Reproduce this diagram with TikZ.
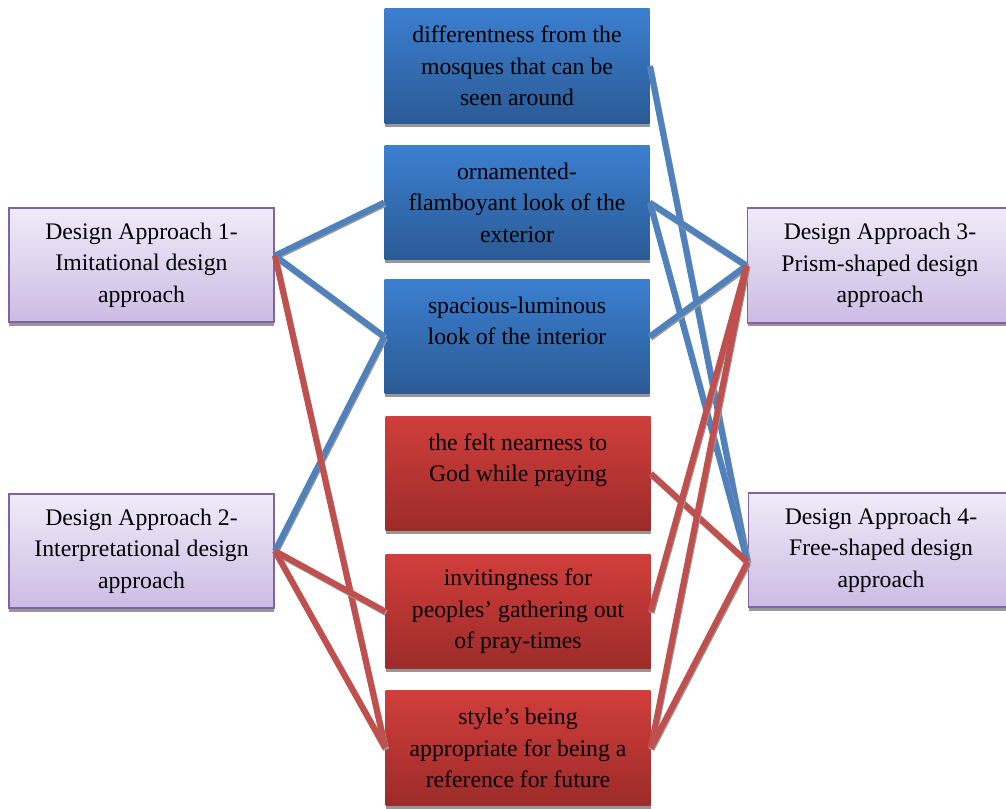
\documentclass[tikz,border=0pt]{standalone}
\usepackage{fontspec}
\setmainfont{Liberation Serif}
\usetikzlibrary{shadows}
\definecolor{apprtop}{HTML}{F0EBF8}
\definecolor{apprbot}{HTML}{CCBBE4}
\definecolor{apprline}{HTML}{8064A2}
\definecolor{bluetop}{HTML}{3B7FD0}
\definecolor{bluebot}{HTML}{2B5A95}
\definecolor{redtop}{HTML}{D13E3B}
\definecolor{redbot}{HTML}{9C2B29}
\definecolor{linkblue}{HTML}{4F81BD}
\definecolor{linkred}{HTML}{C0504D}
\tikzset{
  box/.style={minimum width=198.75pt,minimum height=86pt,inner sep=0pt,align=center,
    font=\fontsize{17.8}{23.6}\selectfont,
    drop shadow={shadow xshift=0pt,shadow yshift=-2.6pt,fill=black!45,opacity=.9}},
  approach/.style={box,draw=apprline,line width=1.4pt,top color=apprtop,bottom color=apprbot},
  bluebox/.style={box,top color=bluetop,bottom color=bluebot},
  redbox/.style={box,top color=redtop,bottom color=redbot},
  link/.style={line width=4.5pt,preaction={draw=black!40,line width=4.5pt,transform canvas={shift={(.6pt,-1.1pt)}}}},
  bluelink/.style={link,draw=linkblue},
  redlink/.style={link,draw=linkred}
}
\begin{document}
\begin{tikzpicture}[x=.75pt,y=-.75pt]
\useasboundingbox (0,0) rectangle (1006,808);
% approaches
\node[approach] (A1) at (141.5,265) {Design Approach 1-\\Imitational design\\approach};
\node[approach] (A2) at (141.5,551) {Design Approach 2-\\Interpretational design\\approach};
\node[approach] (A3) at (880,265.5) {Design Approach 3-\\Prism-shaped design\\approach};
\node[approach] (A4) at (881,550) {Design Approach 4-\\Free-shaped design\\approach};
% qualities
\node[bluebox] (Q1) at (517,66) {differentness from the\\mosques that can be\\seen around};
\node[bluebox] (Q2) at (517,202.5) {ornamented-\\flamboyant look of the\\exterior};
\node[bluebox] (Q3) at (517,336.5) {spacious-luminous\\look of the interior\\~};
\node[redbox] (Q4) at (518,473.5) {the felt nearness to\\God while praying\\~};
\node[redbox] (Q5) at (518,611.5) {invitingness for\\peoples' gathering out\\of pray-times};
\node[redbox] (Q6) at (518,748) {style’s being\\appropriate for being a\\reference for future};
\coordinate (A1out) at ([yshift=7pt]A1.east);
\coordinate (A4in) at ([yshift=-9pt]A4.west);
% links
\draw[bluelink] (A1out) -- (Q2.west);
\draw[bluelink] (A1out) -- (Q3.west);
\draw[bluelink] (A2.east) -- (Q3.west);
\draw[redlink] (A1out) -- (Q6.west);
\draw[redlink] (A2.east) -- (Q5.west);
\draw[redlink] (A2.east) -- (Q6.west);
\draw[bluelink] (Q1.east) -- (A4in);
\draw[bluelink] (Q2.east) -- (A3.west);
\draw[bluelink] (Q2.east) -- (A4in);
\draw[bluelink] (Q3.east) -- (A3.west);
\draw[redlink] (Q4.east) -- (A4in);
\draw[redlink] (Q5.east) -- (A3.west);
\draw[redlink] (Q6.east) -- (A3.west);
\draw[redlink] (Q6.east) -- (A4in);
\end{tikzpicture}
\end{document}
